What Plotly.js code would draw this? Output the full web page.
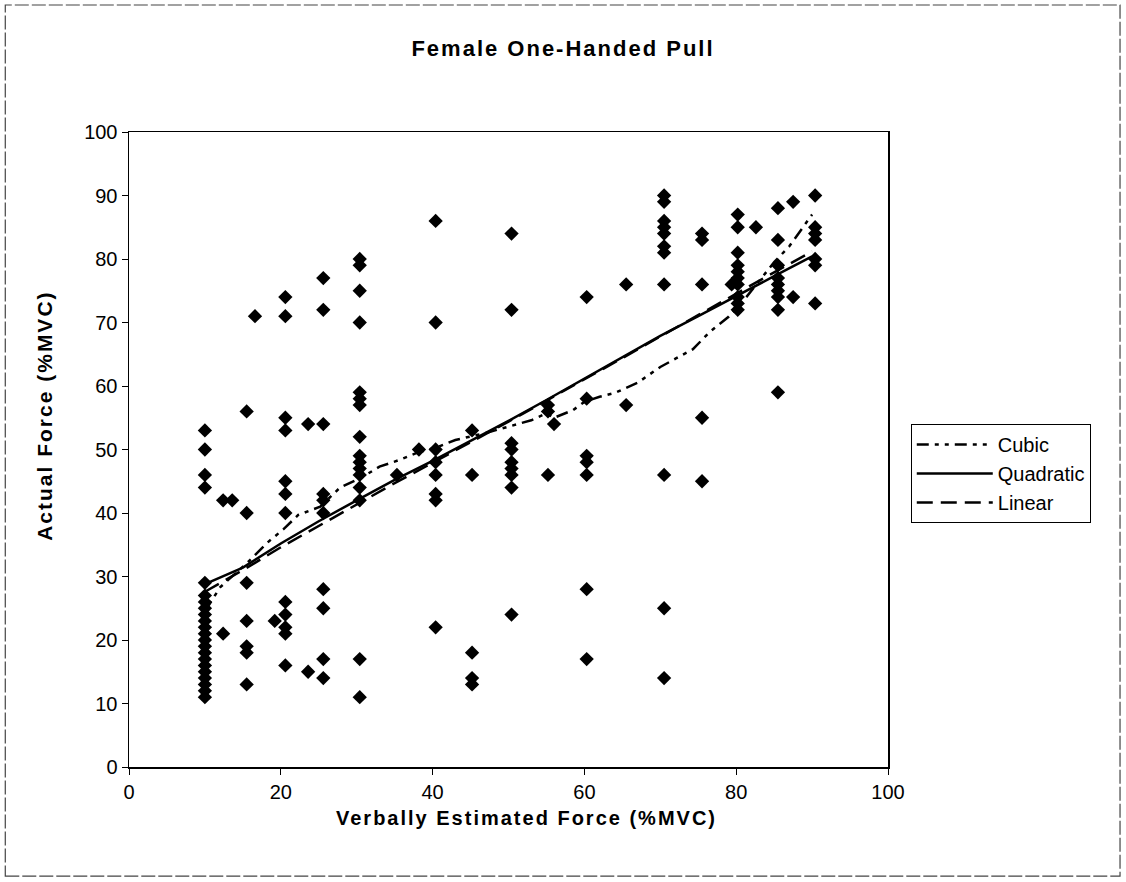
<!DOCTYPE html>
<html>
<head>
<meta charset="utf-8">
<script src="https://cdn.plot.ly/plotly-3.0.1.min.js"></script>
<style>
html,body{margin:0;padding:0;background:#fff;}
#chart{width:1126px;height:882px;}
#chart .gtitle{letter-spacing:2px;}
#chart .annotation-text{letter-spacing:2px;}
#chart .annotation:nth-of-type(2) .annotation-text{letter-spacing:4px;}
</style>
</head>
<body>
<div id="chart"></div>
<script>
// Observed data, grouped by estimated-force column
const colX = [10, 12.4, 13.6, 15.5, 16.6, 19.2, 20.6, 23.6, 25.6, 30.4, 35.3, 38.2, 40.4, 45.2, 50.4, 55.2, 56, 60.3, 65.5, 70.5, 75.5, 79.4, 80.2, 82.6, 85.5, 87.5, 90.4];
const colY = [
  [11,12,13,14,15,16,17,18,19,20,21,22,23,24,25,26,27,29,44,46,50,53],
  [21,42],
  [42],
  [56,40,29,23,19,18,13],
  [71],
  [23],
  [74,71,55,53,45,43,40,26,24,22,21,16],
  [54,15],
  [77,72,54,43,42,40,28,25,17,14],
  [80,79,75,70,59,58,57,52,49,48,47,46,44,42,17,11],
  [46],
  [50],
  [86,70,50,48,46,43,42,22],
  [53,46,18,14,13],
  [84,72,51,50,48,47,46,44,24],
  [57,56,46],
  [54],
  [74,58,49,48,46,28,17],
  [76,57],
  [90,89,86,85,84,82,81,76,46,25,14],
  [84,83,76,55,45],
  [76],
  [87,85,81,79,78,77,76,74,73,72],
  [85],
  [88,83,79,77,76,75,74,72,59],
  [89,74],
  [90,85,84,83,80,79,73]
];

// Fitted curves
const cubicX = [10, 11, 12, 15.7, 18.2, 20.4, 22.3, 25.2, 27.8, 30.8, 33, 35.5, 38, 40.7, 43, 47, 50.7, 53, 55, 56, 58.5, 60, 62, 64, 67, 70, 72, 74.3, 76.5, 79, 81, 83, 85, 87, 88.5, 90];
const cubicY = [24.5, 26.5, 28.3, 32.3, 35.3, 37.5, 39.7, 41, 44, 45.7, 47.3, 48.3, 49.5, 50.4, 51.5, 52.6, 53.9, 54.6, 55.7, 55, 56.2, 57.5, 58.3, 58.9, 60.5, 63, 64.3, 65.8, 68.5, 70.9, 73.5, 76.5, 79.5, 82, 84.5, 87];

const fitX = [10, 15, 20, 25, 30, 35, 40, 45, 50, 55, 60, 65, 70, 75, 80, 85, 90];
const quadY = [28.8, 31.4, 35.2, 38.7, 42.0, 45.2, 48.2, 51.3, 54.5, 57.8, 61.2, 64.6, 67.9, 71.0, 74.2, 77.3, 80.4];
const linY  = [27.6, 31.0, 34.6, 38.0, 41.4, 44.7, 47.9, 51.1, 54.4, 57.7, 61.0, 64.4, 67.8, 71.2, 74.6, 77.9, 81.2];

const xTicks = [0, 20, 40, 60, 80, 100];
const yTicks = [0, 10, 20, 30, 40, 50, 60, 70, 80, 90, 100];

const ptsX = [], ptsY = [];
colX.forEach((x, i) => colY[i].forEach(y => { ptsX.push(x); ptsY.push(y); }));

const FONT = "Liberation Sans, Arial, sans-serif";

const traces = [
  {
    x: ptsX, y: ptsY, mode: 'markers', type: 'scatter', showlegend: false,
    marker: {symbol: 'diamond', size: 11, color: '#000'}, hoverinfo: 'skip'
  },
  {
    x: cubicX, y: cubicY, mode: 'lines', type: 'scatter', name: 'Cubic',
    line: {color: '#000', width: 2.5, dash: '12px,6px,4px,6px,4px,6px'}
  },
  {
    x: fitX, y: quadY, mode: 'lines', type: 'scatter', name: 'Quadratic',
    line: {color: '#000', width: 2.5}
  },
  {
    x: fitX, y: linY, mode: 'lines', type: 'scatter', name: 'Linear',
    line: {color: '#000', width: 2.5, dash: '16px,8px'}
  }
];

const layout = {
  width: 1126, height: 882,
  paper_bgcolor: '#fff', plot_bgcolor: '#fff',
  margin: {l: 129, r: 238, t: 132, b: 115, autoexpand: false},
  font: {family: FONT, color: '#000', size: 20},
  title: {text: '<b>Female One-Handed Pull</b>', font: {family: FONT, size: 22, color: '#000'}, x: 0.5, xref: 'container', xanchor: 'center', y: 0.945, yanchor: 'middle'},
  xaxis: {
    range: [0, 100], tickvals: xTicks, ticktext: xTicks.map(String),
    showgrid: false, zeroline: false, showline: true, mirror: true, linecolor: '#000', linewidth: 1.5,
    ticks: 'outside', ticklen: 6, tickcolor: '#000', tickfont: {size: 20},
    automargin: false
  },
  yaxis: {
    range: [0, 100], tickvals: yTicks, ticktext: yTicks.map(String),
    showgrid: false, zeroline: false, showline: true, mirror: true, linecolor: '#000', linewidth: 1.5,
    ticks: 'outside', ticklen: 6, tickcolor: '#000', tickfont: {size: 20},
    automargin: false
  },
  annotations: [
    {
      text: '<b>Verbally Estimated Force (%MVC)</b>', xref: 'paper', yref: 'paper',
      x: 0.524, y: -0.0803, xanchor: 'center', yanchor: 'middle', showarrow: false,
      font: {size: 20}
    },
    {
      text: '<b>Actual Force (%MVC)</b>', xref: 'paper', yref: 'paper',
      x: -0.1107, y: 0.553, xanchor: 'center', yanchor: 'middle', showarrow: false,
      textangle: -90, font: {size: 21}
    }
  ],
  legend: {
    x: 1.03, xanchor: 'left', y: 0.54, yanchor: 'top',
    bordercolor: '#000', borderwidth: 1, bgcolor: '#fff',
    font: {size: 20}, tracegroupgap: 0, itemwidth: 76
  },
  shapes: [{
    type: 'rect', xref: 'paper', yref: 'paper',
    x0: -0.163, x1: 1.3057, y0: -0.1717, y1: 1.2,
    line: {color: '#444', width: 1.2, dash: '14px,3px'}
  }]
};

Plotly.newPlot('chart', traces, layout, {displayModeBar: false, staticPlot: true});
</script>
</body>
</html>
